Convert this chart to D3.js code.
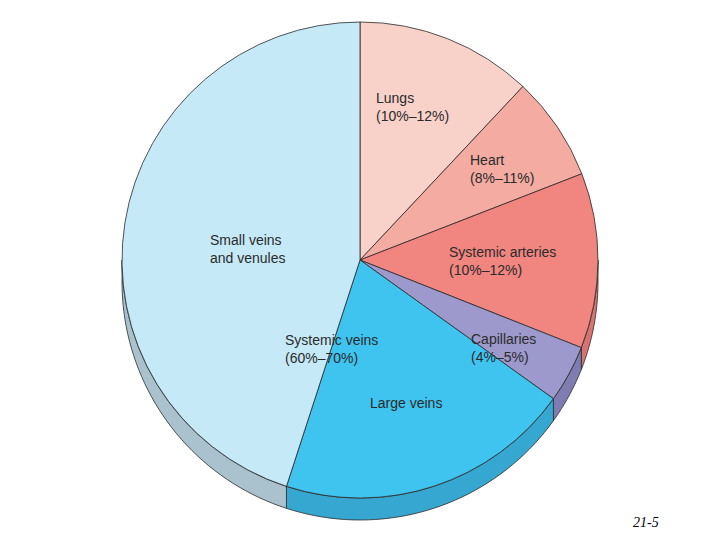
<!DOCTYPE html>
<meta charset="utf-8">
<script src="https://d3js.org/d3.v7.min.js"></script>
<style>
  body { margin: 0; background: #fff; }
</style>
<body>
<div id="chart"></div>
<script>
// blood distribution shares, clockwise from 12 o'clock
var categories = ["Lungs", "Heart", "Systemic arteries", "Capillaries", "Large veins", "Small veins and venules"];
var values = [12.0, 7.1, 11.9, 3.9, 20.1, 45.0];
var topColors = ["#f8d1c9", "#f4aba1", "#f18580", "#9d99cc", "#3fc4f0", "#c5e9f7"];
var sideColors = ["#dcaaa2", "#d88d85", "#d77470", "#7f7cb1", "#36a7d0", "#a9c2ce"];
var labelLines = [
  ["Lungs", "(10%\u201312%)"],
  ["Heart", "(8%\u201311%)"],
  ["Systemic arteries", "(10%\u201312%)"],
  ["Capillaries", "(4%\u20135%)"],
  ["Large veins"],
  ["Small veins", "and venules"]
];
var groupLabel = ["Systemic veins", "(60%\u201370%)"];

var width = 720, height = 540,
    cx = 360, cy = 260, r = 238, depth = 22;

var svg = d3.select("#chart").append("svg")
  .attr("width", width)
  .attr("height", height);

var data = categories.map(function(c, i) {
  return { name: c, value: values[i], top: topColors[i], side: sideColors[i], lines: labelLines[i] };
});

var pie = d3.pie().sort(null).value(function(d) { return d.value; });
var arcs = pie(data);

var g = svg.append("g").attr("transform", "translate(" + cx + "," + cy + ")");

// side wall: only the front half (angles between PI/2 and 3PI/2) shows
function pt(a, dy) { return [r * Math.sin(a), -r * Math.cos(a) + dy]; }
function sidePath(a0, a1) {
  var s = Math.max(a0, Math.PI / 2), e = Math.min(a1, 3 * Math.PI / 2);
  if (e <= s) return null;
  var n = 40, pts = [], i;
  for (i = 0; i <= n; i++) pts.push(pt(s + (e - s) * i / n, 0));
  for (i = n; i >= 0; i--) pts.push(pt(s + (e - s) * i / n, depth));
  return "M" + pts.join("L") + "Z";
}

g.selectAll("path.side")
  .data(arcs.filter(function(d) { return sidePath(d.startAngle, d.endAngle); }))
  .enter().append("path")
  .attr("class", "side")
  .attr("d", function(d) { return sidePath(d.startAngle, d.endAngle); })
  .attr("fill", function(d) { return d.data.side; })
  .attr("stroke", "#2a2a2a")
  .attr("stroke-width", 0.8)
  .attr("stroke-linejoin", "round");

var arc = d3.arc().innerRadius(0).outerRadius(r);

g.selectAll("path.top")
  .data(arcs)
  .enter().append("path")
  .attr("class", "top")
  .attr("d", arc)
  .attr("fill", function(d) { return d.data.top; })
  .attr("stroke", "#2a2a2a")
  .attr("stroke-width", 0.8)
  .attr("stroke-linejoin", "round");

// label anchor points, relative to the pie centre
var labelPos = [[16, -157], [110, -95], [89, -3], [111, 84], [10, 148], [-150, -15]];

function addLabel(lines, x, y) {
  var t = g.append("text")
    .attr("x", x).attr("y", y)
    .style("font-family", "'Liberation Sans', Arial, Helvetica, sans-serif")
    .style("font-size", "14px")
    .attr("fill", "#2b2b2b");
  lines.forEach(function(l, i) {
    t.append("tspan").attr("x", x).attr("dy", i === 0 ? 0 : 17.5).text(l);
  });
}

arcs.forEach(function(d, i) {
  addLabel(d.data.lines, labelPos[i][0], labelPos[i][1]);
});
addLabel(groupLabel, -75, 85);

svg.append("text")
  .attr("x", 633).attr("y", 527)
  .style("font-family", "'Liberation Serif', 'Times New Roman', serif")
  .style("font-style", "italic")
  .style("font-size", "14px")
  .attr("fill", "#000")
  .text("21-5");
</script>
</body>
